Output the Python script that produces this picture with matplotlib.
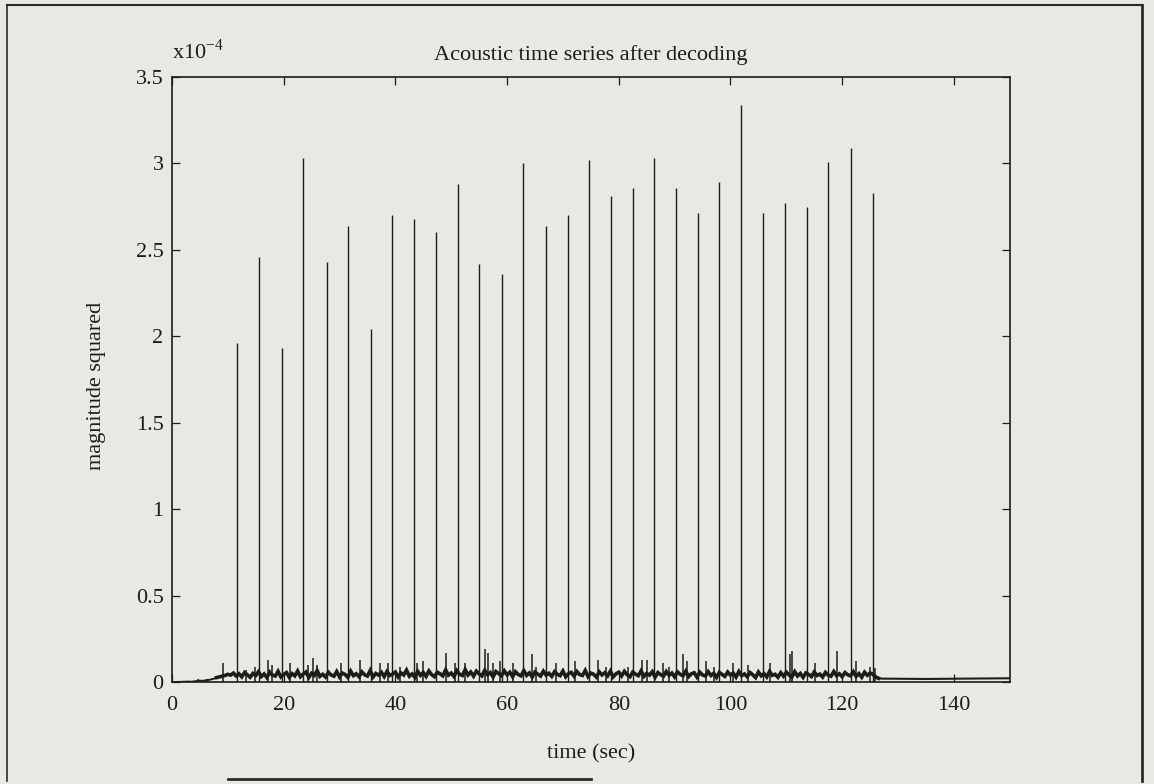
# Acoustic time series after decoding - magnitude squared vs time
import numpy as np
import matplotlib.pyplot as plt
from matplotlib.lines import Line2D

# magnitude squared in units of 1e-4
peak_times = [11.7, 15.6, 19.7, 23.5, 27.7, 31.6, 35.6, 39.4, 43.3, 47.3,
              51.2, 55.0, 59.1, 62.9, 66.9, 70.9, 74.6, 78.6, 82.5, 86.3,
              90.3, 94.2, 98.0, 101.8, 105.9, 109.8, 113.7, 117.5, 121.5, 125.5]
peak_heights = [1.96, 2.46, 1.93, 3.03, 2.43, 2.64, 2.04, 2.70, 2.68, 2.60,
                2.88, 2.42, 2.36, 3.00, 2.64, 2.70, 3.02, 2.81, 2.86, 3.03,
                2.86, 2.71, 2.89, 3.34, 2.71, 2.77, 2.75, 3.01, 3.09, 2.83]

# small spikes riding on the noise floor
spike_times = [4.7, 6.2, 9.2, 13.2, 14.9, 17.2, 18.0, 21.1, 24.4, 25.2,
               26.0, 30.2, 33.6, 37.2, 38.7, 40.8, 43.8, 44.9, 49.0, 50.7,
               52.4, 56.0, 56.6, 57.5, 58.7, 61.0, 64.4, 65.2, 68.8, 72.1,
               76.3, 77.8, 81.7, 84.1, 85.0, 87.9, 89.0, 91.5, 92.3, 95.7,
               97.0, 100.4, 103.1, 107.0, 110.6, 111.0, 115.1, 119.0, 122.5, 124.9,
               125.8]
spike_heights = [0.02, 0.02, 0.11, 0.07, 0.09, 0.13, 0.10, 0.11, 0.10, 0.14,
                 0.10, 0.11, 0.13, 0.11, 0.11, 0.09, 0.11, 0.12, 0.17, 0.11,
                 0.11, 0.19, 0.17, 0.11, 0.12, 0.11, 0.16, 0.09, 0.11, 0.12,
                 0.13, 0.09, 0.09, 0.13, 0.13, 0.11, 0.09, 0.16, 0.12, 0.12,
                 0.09, 0.11, 0.10, 0.11, 0.16, 0.18, 0.11, 0.18, 0.12, 0.09,
                 0.08]

# quiet start before the transmission, every 0.5 s from 0 to 7.5 s
lead_vals = [0.000, 0.000, 0.001, 0.001, 0.002, 0.002, 0.003, 0.002,
             0.004, 0.006, 0.008, 0.007, 0.010, 0.012, 0.015, 0.020]

# noise floor, sampled every 0.5 s from 8 to 126.5 s
floor_step = 0.5
floor_vals = [
    0.026, 0.030, 0.034, 0.038,
    0.045, 0.040, 0.052, 0.035, 0.048, 0.030, 0.055, 0.042, 0.028, 0.050,
    0.038, 0.060, 0.032, 0.047, 0.026, 0.058, 0.040, 0.035, 0.062, 0.030,
    0.044, 0.055, 0.028, 0.049, 0.036, 0.064, 0.031, 0.046, 0.058, 0.027,
    0.051, 0.039, 0.066, 0.033, 0.045, 0.029, 0.057, 0.041, 0.034, 0.061,
    0.030, 0.052, 0.044, 0.027, 0.063, 0.037, 0.048, 0.031, 0.059, 0.042,
    0.035, 0.067, 0.029, 0.050, 0.040, 0.056, 0.032, 0.061, 0.038, 0.046,
    0.058, 0.030, 0.053, 0.041, 0.069, 0.034, 0.047, 0.028, 0.062, 0.039,
    0.055, 0.033, 0.064, 0.043, 0.031, 0.057, 0.048, 0.036, 0.070, 0.040,
    0.052, 0.032, 0.066, 0.045, 0.038, 0.072, 0.041, 0.058, 0.034, 0.063,
    0.047, 0.036, 0.068, 0.043, 0.055, 0.030, 0.061, 0.049, 0.037, 0.065,
    0.042, 0.057, 0.031, 0.060, 0.044, 0.036, 0.066, 0.039, 0.053, 0.029,
    0.058, 0.046, 0.035, 0.063, 0.040, 0.051, 0.033, 0.060, 0.045, 0.037,
    0.064, 0.031, 0.049, 0.056, 0.034, 0.061, 0.043, 0.038, 0.067, 0.032,
    0.052, 0.045, 0.029, 0.059, 0.041, 0.054, 0.036, 0.063, 0.030, 0.048,
    0.057, 0.035, 0.062, 0.042, 0.031, 0.058, 0.046, 0.037, 0.065, 0.033,
    0.050, 0.040, 0.060, 0.028, 0.055, 0.043, 0.034, 0.061, 0.039, 0.052,
    0.030, 0.059, 0.045, 0.036, 0.063, 0.032, 0.048, 0.054, 0.029, 0.057,
    0.041, 0.035, 0.060, 0.038, 0.051, 0.027, 0.056, 0.044, 0.033, 0.058,
    0.040, 0.052, 0.029, 0.061, 0.037, 0.047, 0.031, 0.055, 0.042, 0.026,
    0.058, 0.036, 0.049, 0.030, 0.062, 0.039, 0.045, 0.028, 0.054, 0.034,
    0.057, 0.041, 0.030, 0.060, 0.035, 0.050, 0.027, 0.053, 0.044, 0.032,
    0.059, 0.038, 0.046, 0.029, 0.056, 0.040, 0.034, 0.061, 0.037, 0.048,
    0.031, 0.055, 0.042, 0.036, 0.060, 0.033, 0.049, 0.028, 0.057, 0.039,
    0.052, 0.045, 0.030, 0.022,
]
floor_start = 8.0

# quiet tail after the transmission stops
tail_times = [126.5, 127.0, 135.0, 142.0, 150.0]
tail_vals = [0.022, 0.020, 0.018, 0.020, 0.022]

bg = '#e9e9e3'
ink = '#1c1c1c'

plt.rcParams['font.family'] = ['Liberation Serif', 'DejaVu Serif']
plt.rcParams['mathtext.fontset'] = 'custom'
plt.rcParams['mathtext.rm'] = 'Liberation Serif'

fig = plt.figure(figsize=(11.54, 7.84), dpi=100, facecolor=bg)
ax = fig.add_axes([0.149, 0.130, 0.726, 0.772], facecolor=bg)

lead_t = np.arange(len(lead_vals)) * floor_step
floor_t = floor_start + np.arange(len(floor_vals)) * floor_step

ax.plot(np.append(lead_t, floor_start), np.append(lead_vals, floor_vals[0]),
        color=ink, lw=1.4)
ax.plot(floor_t, floor_vals, color=ink, lw=2.6, solid_joinstyle='miter')
ax.plot(tail_times, tail_vals, color=ink, lw=1.5)
ax.vlines(spike_times, 0, spike_heights, color=ink, lw=1.1)
ax.vlines(peak_times, 0, peak_heights, color=ink, lw=1.0)

ax.set_xlim(0, 150)
ax.set_ylim(0, 3.5)
ax.set_xticks([0, 20, 40, 60, 80, 100, 120, 140])
ax.set_yticks([0, 0.5, 1, 1.5, 2, 2.5, 3, 3.5])
ax.set_yticklabels(['0', '0.5', '1', '1.5', '2', '2.5', '3', '3.5'])
ax.tick_params(direction='in', top=True, right=True, length=6, width=0.9,
               labelsize=16, colors=ink)
ax.tick_params(axis='x', pad=10)
ax.tick_params(axis='y', pad=6)
for s in ax.spines.values():
    s.set_linewidth(1.2)
    s.set_color(ink)

ax.set_title('Acoustic time series after decoding', fontsize=16, color=ink, pad=12)
ax.set_xlabel('time (sec)', fontsize=16, color=ink)
ax.xaxis.set_label_coords(0.5, -0.103)
ax.set_ylabel('magnitude squared', fontsize=16, color=ink)
ax.yaxis.set_label_coords(-0.079, 0.49)
ax.text(0.0, 1.022, r'x10$^{-4}$', transform=ax.transAxes, fontsize=16,
        color=ink, ha='left', va='bottom')

# scanned page frame
frame_kw = dict(transform=fig.transFigure, color='#2a2a2a')
fig.add_artist(Line2D([0.006, 0.006], [0.004, 0.994], lw=1.2, **frame_kw))
fig.add_artist(Line2D([0.006, 0.990], [0.994, 0.994], lw=1.5, **frame_kw))
fig.add_artist(Line2D([0.990, 0.990], [0.004, 0.994], lw=2.0, **frame_kw))
fig.add_artist(Line2D([0.198, 0.512], [0.006, 0.006], lw=2.0, **frame_kw))

fig.savefig('out.png', dpi=100, facecolor=bg)
